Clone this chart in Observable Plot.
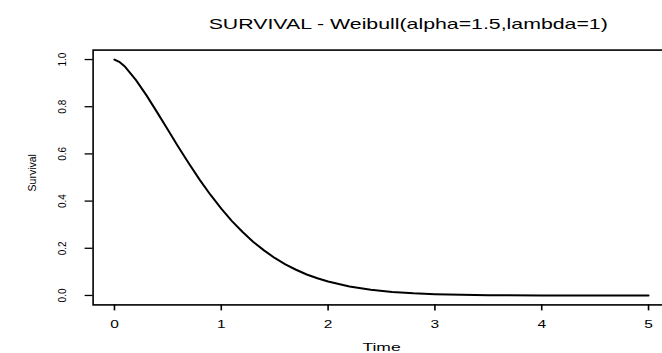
<!DOCTYPE html>
<html><head><meta charset="utf-8">
<script src="https://cdn.jsdelivr.net/npm/d3@7"></script>
<script src="https://cdn.jsdelivr.net/npm/@observablehq/plot@0.6"></script>
<style>
body{margin:0;background:#fff;overflow:hidden}
#chart{width:662px;height:353px;overflow:hidden}
#chart svg{font-family:"Liberation Sans",Arial,sans-serif;display:block;max-width:none}
</style>
</head><body><div id="chart"></div>
<script>
// values
const time     = [0, 0.05, 0.1, 0.2, 0.3, 0.4, 0.5, 0.6, 0.7, 0.8, 0.9, 1.0, 1.1, 1.2, 1.3, 1.4, 1.5, 1.6, 1.7, 1.8, 1.9, 2.0, 2.2, 2.4, 2.6, 2.8, 3.0, 3.5, 4.0, 4.5, 5.0];
const survival = [1, 0.989, 0.969, 0.914, 0.848, 0.776, 0.702, 0.628, 0.557, 0.489, 0.426, 0.368, 0.315, 0.269, 0.227, 0.191, 0.159, 0.132, 0.109, 0.089, 0.073, 0.059, 0.038, 0.024, 0.015, 0.009, 0.0055, 0.0014, 0.0003, 0.0001, 0];
const xTicks = [0, 1, 2, 3, 4, 5];
const xTickLabels = ["0", "1", "2", "3", "4", "5"];
const yTicks = [0, 0.2, 0.4, 0.6, 0.8, 1.0];
const yTickLabels = ["0.0", "0.2", "0.4", "0.6", "0.8", "1.0"];
const titleText = "SURVIVAL - Weibull(alpha=1.5,lambda=1)";
const xLabel = "Time";
const yLabel = "Survival";

const rows = time.map((t, i) => ({t, s: survival[i]}));
const xTickRows = xTicks.map((v, i) => ({v, label: xTickLabels[i]}));
const yTickRows = yTicks.map((v, i) => ({v, label: yTickLabels[i]}));

const chart = Plot.plot({
  width: 670, height: 353,
  marginLeft: 92.6, marginRight: 0.6, marginTop: 49.6, marginBottom: 48.6,
  x: {domain: [-0.2, 5.2]},
  y: {domain: [-0.04, 1.04]},
  style: {background: "#fff", fontFamily: "'Liberation Sans', Arial, sans-serif", color: "#000", maxWidth: "none"},
  marks: [
    Plot.frame({stroke: "#000", strokeWidth: 1.6}),
    Plot.axisX({ticks: xTicks, tickSize: 6, tickFormat: () => "", label: null, strokeWidth: 1.6}),
    Plot.axisY({ticks: yTicks, tickSize: 8, tickFormat: () => "", label: null, strokeWidth: 1.3}),
    Plot.text(xTickRows, {x: "v", text: "label", frameAnchor: "bottom", dy: 23, lineAnchor: "bottom", fontSize: 10, className: "hs"}),
    Plot.text(yTickRows, {y: "v", text: "label", frameAnchor: "left", dx: -27, rotate: -90, textAnchor: "middle", lineAnchor: "bottom", fontSize: 10, className: "vs"}),
    Plot.text([xLabel], {x: 2.5, text: d => d, frameAnchor: "bottom", dy: 46, lineAnchor: "bottom", fontSize: 10, className: "xl"}),
    Plot.text([yLabel], {y: 0.52, text: d => d, frameAnchor: "left", dx: -57, rotate: -90, textAnchor: "middle", lineAnchor: "bottom", fontSize: 10.5, className: "vs"}),
    Plot.text([titleText], {x: 2.75, text: d => d, frameAnchor: "top", dy: -21, lineAnchor: "bottom", fontSize: 15, className: "ts"}),
    Plot.line(rows, {x: "t", y: "s", stroke: "#000", strokeWidth: 2})
  ]
});

function stretch(svg, cls, sx, sy) {
  d3.select(svg).selectAll(`g.${cls} text`).each(function () {
    const t = this.getAttribute("transform") || "";
    const sc = `scale(${sx},${sy})`;
    if (t.includes("rotate")) this.setAttribute("transform", t.replace("rotate", sc + " rotate"));
    else if (t) this.setAttribute("transform", t + " " + sc);
    else {
      const x = this.getAttribute("x") || 0, y = this.getAttribute("y") || 0;
      this.removeAttribute("x"); this.removeAttribute("y");
      this.setAttribute("transform", `translate(${x},${y}) ${sc}`);
    }
  });
}
stretch(chart, "hs", 1.55, 1);
stretch(chart, "xl", 1.75, 1);
stretch(chart, "vs", 1.1, 1);
stretch(chart, "ts", 1.42, 1);
d3.select(chart).selectAll('g[aria-label="x-axis tick label"], g[aria-label="y-axis tick label"]').remove();
chart.style.maxWidth = "none";
document.getElementById("chart").append(chart);
</script>
</body></html>
